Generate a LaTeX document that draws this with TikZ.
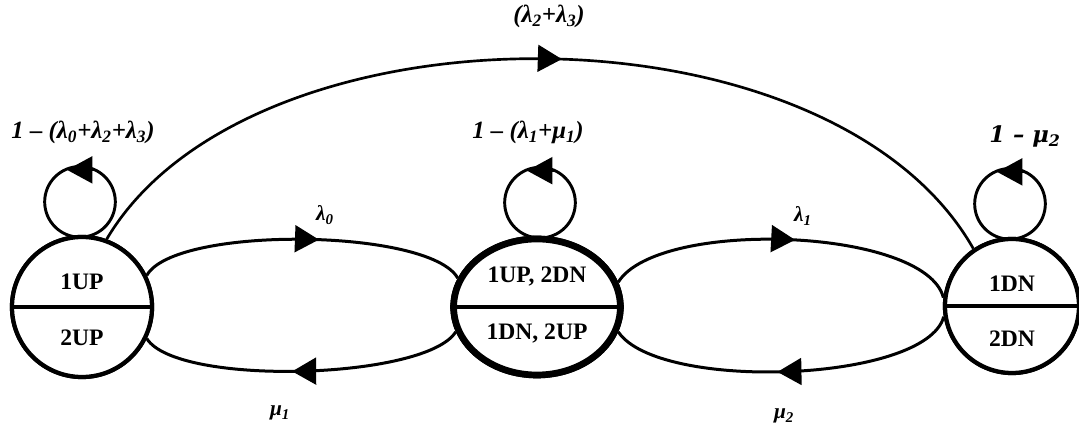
\documentclass[tikz,border=0pt]{standalone}
\usepackage{fontspec}
\setmainfont{Liberation Serif}
\newfontfamily\mufont{DejaVu Serif}
\usetikzlibrary{arrows.meta,decorations.markings,shapes.geometric,calc}

\tikzset{
  x=0.75pt, y=0.75pt,
  statec/.style={circle, draw, line width=3.2pt, fill=white, inner sep=0pt, minimum size=#1},
  statee/.style={ellipse, draw, line width=5pt, fill=white, inner sep=0pt, minimum width=125pt, minimum height=102pt},
  divider/.style={line width=2.4pt},
  stxt/.style={font=\fontsize{17.7}{20}\selectfont\bfseries, anchor=base, inner sep=0pt},
  elbl/.style={font=\fontsize{18.6}{20}\selectfont\bfseries\itshape, anchor=base, inner sep=0pt},
  slbl/.style={font=\fontsize{16}{18}\selectfont\bfseries\itshape, anchor=base, inner sep=0pt},
  bigtip/.style={-{Triangle[length=19pt,width=20pt]}},
  midarrow/.style={postaction={decorate}, decoration={markings, mark=at position #1 with {\arrow{Triangle[length=18pt,width=20pt]}}}},
  arcline/.style={line width=2.25pt},
  bigarc/.style={line width=2pt},
  loopline/.style={line width=2.2pt},
}

\begin{document}
\begin{tikzpicture}
\useasboundingbox (0,0) rectangle (1079,424);

% states
\node[statec=105pt] (L) at (82,117) {};
\node[statee] (M) at (537,117) {};
\node[statec=100.5pt] (R) at (1012,118) {};

% connectors
\draw[arcline, midarrow=0.55] (L.26) .. controls +(28,50) and +(-28,50) .. (M.160);
\draw[arcline, midarrow=0.53] (M.197) .. controls +(-30,-48) and +(30,-48) .. (L.334);
\draw[arcline, midarrow=0.53] (M.17) .. controls +(40,64) and +(-18,70) .. (R.173);
\draw[arcline, midarrow=0.52] (R.189) .. controls +(-18,-66) and +(40,-60) .. (M.343);
\draw[bigarc, midarrow=0.52] (L.70) .. controls +(143,242) and +(-143,252) .. (R.124);

% self loops
\coordinate (Lloop) at ($(L.north)+(-2,33)$);
\coordinate (Mloop) at ($(M.north)+(3,33)$);
\coordinate (Rloop) at ($(R.north)+(-2,33)$);
\foreach \c in {Lloop,Mloop,Rloop}{
  \draw[loopline] (\c) circle[radius=26.5pt];
  \draw[loopline, bigtip] ($(\c)+(14,32)$) -- ($(\c)+(-13,32)$);
}

% redraw states on top
\node[statec=105pt] (L2) at (L) {};
\node[statee] (M2) at (M) {};
\node[statec=100.5pt] (R2) at (R) {};
\draw[divider] (L2.west) -- (L2.east);
\draw[divider] (M2.west) -- (M2.east);
\draw[divider] (R2.west) -- (R2.east);

% state texts
\node[stxt] (Lt) at (82,134) {1UP};
\node[stxt] (Lb) at (82,78) {2UP};
\node[stxt] (Mt) at (537,141) {1UP, 2DN};
\node[stxt] (Mb) at (537,84) {1DN, 2UP};
\node[stxt] (Rt) at (1012,132) {1DN};
\node[stxt] (Rb) at (1012,77) {2DN};

% labels
\node[elbl] (lab23) at (549,401) {(λ\textsubscript{2}+λ\textsubscript{3})};
\node[elbl] (labL) at (83,285) {1 – (λ\textsubscript{0}+λ\textsubscript{2}+λ\textsubscript{3})};
\node[elbl] (labM) at (528,285) {1 – (λ\textsubscript{1}+μ\textsubscript{1})};
\node[elbl, font=\mufont\fontsize{17}{20}\selectfont\bfseries\itshape] (labR) at (1025,281) {1 – μ\textsubscript{2}};
\node[slbl] (lab0) at (325,203) {λ\textsubscript{0}};
\node[slbl] (lab1) at (803,202) {λ\textsubscript{1}};
\node[slbl] (labmu1) at (280,8) {μ\textsubscript{1}};
\node[slbl] (labmu2) at (784,5) {μ\textsubscript{2}};
\end{tikzpicture}
\end{document}
